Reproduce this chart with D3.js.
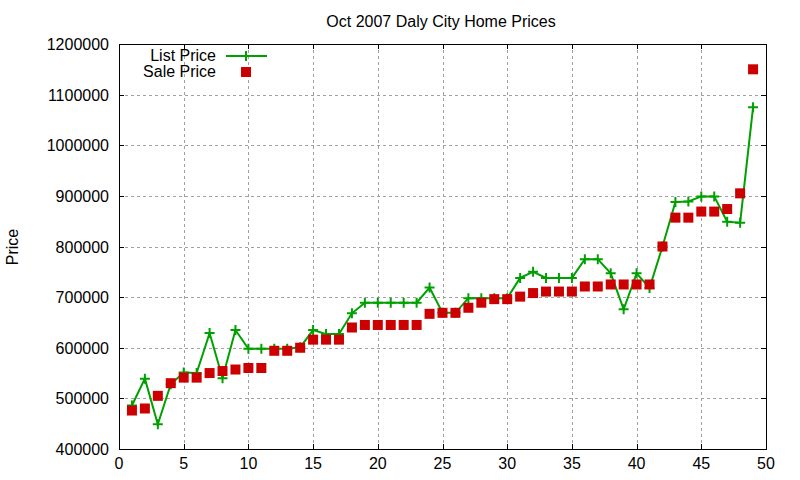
<!DOCTYPE html>
<html>
<head>
<meta charset="utf-8">
<script src="https://cdn.jsdelivr.net/npm/d3@7/dist/d3.min.js"></script>
<style>
  body { margin: 0; background: #fff; }
  text { font-family: "Liberation Sans", Arial, sans-serif; fill: #000; }
</style>
</head>
<body>
<svg></svg>
<script>
var width = 800,
    height = 480;

// house number along x
var houses = d3.range(1, 50);

var listPrice = [486000, 539000, 449000, 528000, 551000, 550000, 629000, 540000, 635000, 598000,
  598000, 598000, 598000, 601000, 635000, 627000, 627000, 668000, 689000, 689000,
  689000, 689000, 689000, 719000, 669000, 669000, 698000, 698000, 698000, 698000,
  738000, 750000, 738000, 738000, 738000, 775000, 775000, 747000, 676000, 747000,
  718000, 800000, 888000, 889000, 899000, 899000, 849000, 847000, 1075000];

var salePrice = [476000, 480000, 505000, 530000, 541000, 541000, 550000, 554000, 557000, 560000,
  560000, 594000, 594000, 600000, 616000, 616000, 616000, 640000, 645000, 645000,
  645000, 645000, 645000, 667000, 669000, 669000, 679000, 689000, 696000, 696000,
  701000, 708000, 711000, 711000, 711000, 721000, 721000, 725000, 725000, 725000,
  725000, 800000, 857000, 857000, 869000, 869000, 874000, 905000, 1150000];

var xTicks = d3.range(0, 51, 5);
var yTicks = d3.range(400000, 1200001, 100000);

var plotL = 119, plotR = 766, plotT = 44, plotB = 449;

var svg = d3.select("svg")
    .attr("width", width)
    .attr("height", height);

var x = d3.scaleLinear().domain([0, 50]).range([plotL, plotR]);
var y = d3.scaleLinear().domain([400000, 1200000]).range([plotB, plotT]);

//grid
var grid = svg.append("g")
  .attr("stroke", "#a0a0a0")
  .attr("stroke-width", 1)
  .attr("stroke-dasharray", "3,3");
grid.selectAll(".gx")
    .data(xTicks.filter(function(d){ return d > 0 && d < 50; }))
  .enter().append("line")
    .attr("x1", function(d){ return Math.round(x(d)) + 0.5; })
    .attr("x2", function(d){ return Math.round(x(d)) + 0.5; })
    .attr("y1", plotT).attr("y2", plotB);
grid.selectAll(".gy")
    .data(yTicks.filter(function(d){ return d > 400000 && d < 1200000; }))
  .enter().append("line")
    .attr("y1", function(d){ return Math.round(y(d)) + 0.5; })
    .attr("y2", function(d){ return Math.round(y(d)) + 0.5; })
    .attr("x1", plotL).attr("x2", plotR);

//ticks on all four sides, pointing in
var tk = svg.append("g").attr("stroke", "#000").attr("stroke-width", 1);
xTicks.forEach(function(d){
  var px = Math.round(x(d)) + 0.5;
  tk.append("line").attr("x1", px).attr("x2", px).attr("y1", plotB).attr("y2", plotB - 5);
  tk.append("line").attr("x1", px).attr("x2", px).attr("y1", plotT).attr("y2", plotT + 5);
});
yTicks.forEach(function(d){
  var py = Math.round(y(d)) + 0.5;
  tk.append("line").attr("y1", py).attr("y2", py).attr("x1", plotL).attr("x2", plotL + 5);
  tk.append("line").attr("y1", py).attr("y2", py).attr("x1", plotR).attr("x2", plotR - 5);
});

//frame
svg.append("rect")
  .attr("x", plotL + 0.5).attr("y", plotT + 0.5)
  .attr("width", plotR - plotL).attr("height", plotB - plotT)
  .attr("fill", "none").attr("stroke", "#000");

//tick labels
svg.selectAll(".xl")
    .data(xTicks)
  .enter().append("text")
    .attr("x", function(d){ return x(d); })
    .attr("y", plotB + 20)
    .attr("text-anchor", "middle")
    .style("font-size", "16px")
    .text(function(d){ return d; });
svg.selectAll(".yl")
    .data(yTicks)
  .enter().append("text")
    .attr("x", plotL - 10)
    .attr("y", function(d){ return y(d) + 6; })
    .attr("text-anchor", "end")
    .style("font-size", "16px")
    .text(function(d){ return d; });

//title and axis label
svg.append("text")
  .attr("x", 441).attr("y", 27)
  .attr("text-anchor", "middle")
  .style("font-size", "16px")
  .text("Oct 2007 Daly City Home Prices");
svg.append("text")
  .attr("transform", "translate(18,247) rotate(-90)")
  .attr("text-anchor", "middle")
  .style("font-size", "16px")
  .text("Price");

var green = "#00a000", red = "#cc0000";

//list price line
var line = d3.line()
  .x(function(d, i){ return x(houses[i]); })
  .y(function(d){ return y(d); });
svg.append("path")
  .datum(listPrice)
  .attr("d", line)
  .attr("fill", "none")
  .attr("stroke", green)
  .attr("stroke-width", 2);

function plus(g, cx, cy) {
  g.append("path")
    .attr("d", "M" + (cx - 5) + "," + cy + "H" + (cx + 5) + "M" + cx + "," + (cy - 5) + "V" + (cy + 5))
    .attr("stroke", green)
    .attr("stroke-width", 2);
}
var marks = svg.append("g");
listPrice.forEach(function(d, i){ plus(marks, x(houses[i]), y(d)); });

//sale price squares
svg.selectAll(".sale")
    .data(salePrice)
  .enter().append("rect")
    .attr("x", function(d, i){ return x(houses[i]) - 5; })
    .attr("y", function(d){ return y(d) - 5; })
    .attr("width", 10).attr("height", 10)
    .attr("fill", red);

//legend
var lg = svg.append("g");
lg.append("text").attr("x", 216).attr("y", 61).attr("text-anchor", "end")
  .style("font-size", "16px").text("List Price");
lg.append("line").attr("x1", 226).attr("x2", 267).attr("y1", 56).attr("y2", 56)
  .attr("stroke", green).attr("stroke-width", 2);
plus(lg, 246, 56);
lg.append("text").attr("x", 216).attr("y", 77).attr("text-anchor", "end")
  .style("font-size", "16px").text("Sale Price");
lg.append("rect").attr("x", 241).attr("y", 67).attr("width", 10).attr("height", 10)
  .attr("fill", red);
</script>
</body>
</html>
